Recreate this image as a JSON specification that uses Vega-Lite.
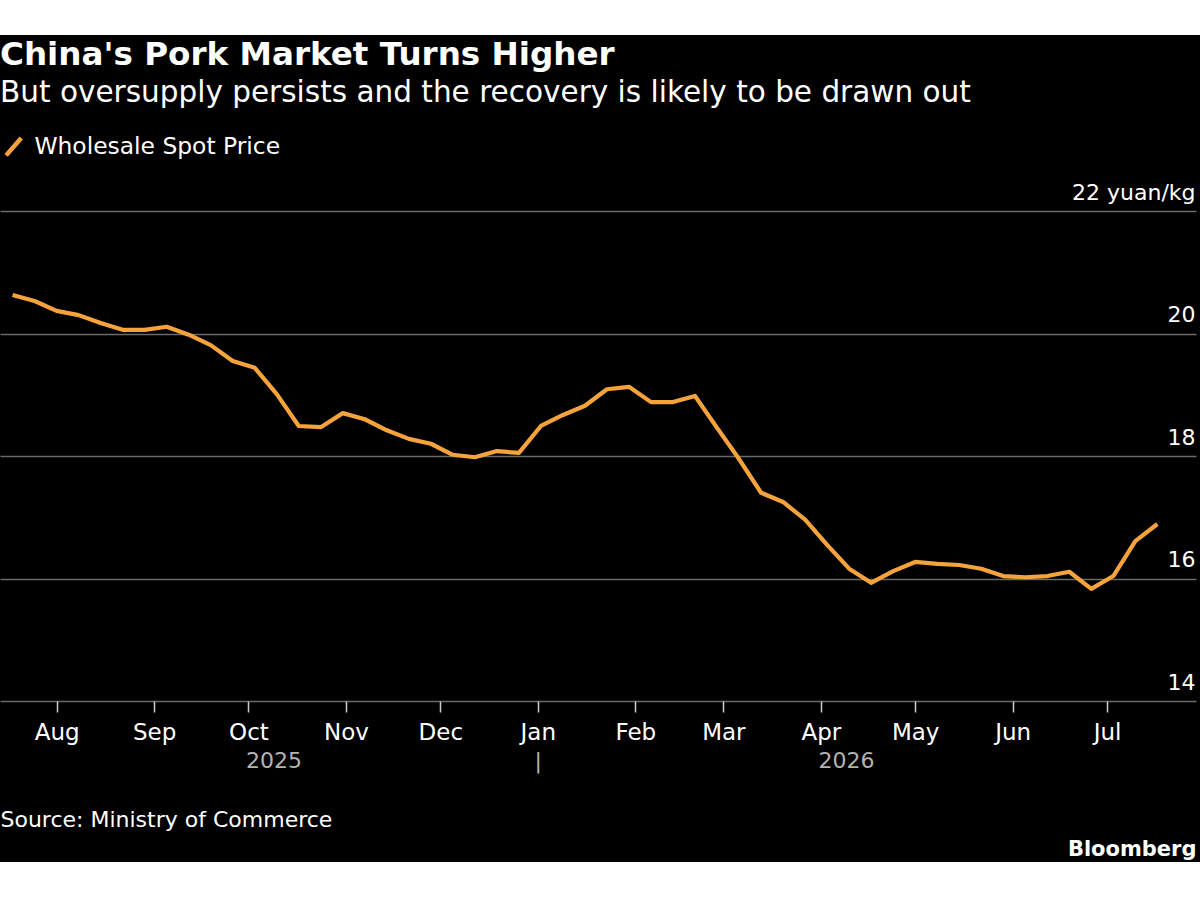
{
  "$schema": "https://vega.github.io/schema/vega-lite/v6.json",
  "autosize": "none",
  "width": 1196,
  "height": 490,
  "padding": {"left": 0, "top": 211, "right": 4, "bottom": 161},
  "background": "white",
  "view": {"fill": "black", "stroke": "black", "strokeWidth": 352},
  "title": {
    "text": "China's Pork Market Turns Higher",
    "subtitle": "But oversupply persists and the recovery is likely to be drawn out",
    "anchor": "start",
    "frame": "group",
    "font": "DejaVu Sans",
    "fontSize": 32.6,
    "fontWeight": "bold",
    "color": "white",
    "subtitleFont": "DejaVu Sans",
    "subtitleFontSize": 29.5,
    "subtitleColor": "white",
    "subtitlePadding": 8,
    "offset": 27
  },
  "layer": [
    {
      "data": {
        "values": [
          {"date": "2025-07-18", "price": 20.63, "series": "Wholesale Spot Price"},
          {"date": "2025-07-25", "price": 20.53, "series": "Wholesale Spot Price"},
          {"date": "2025-08-01", "price": 20.37, "series": "Wholesale Spot Price"},
          {"date": "2025-08-08", "price": 20.30, "series": "Wholesale Spot Price"},
          {"date": "2025-08-15", "price": 20.17, "series": "Wholesale Spot Price"},
          {"date": "2025-08-22", "price": 20.06, "series": "Wholesale Spot Price"},
          {"date": "2025-08-29", "price": 20.06, "series": "Wholesale Spot Price"},
          {"date": "2025-09-05", "price": 20.11, "series": "Wholesale Spot Price"},
          {"date": "2025-09-12", "price": 19.98, "series": "Wholesale Spot Price"},
          {"date": "2025-09-19", "price": 19.81, "series": "Wholesale Spot Price"},
          {"date": "2025-09-26", "price": 19.55, "series": "Wholesale Spot Price"},
          {"date": "2025-10-03", "price": 19.44, "series": "Wholesale Spot Price"},
          {"date": "2025-10-10", "price": 19.01, "series": "Wholesale Spot Price"},
          {"date": "2025-10-17", "price": 18.49, "series": "Wholesale Spot Price"},
          {"date": "2025-10-24", "price": 18.47, "series": "Wholesale Spot Price"},
          {"date": "2025-10-31", "price": 18.70, "series": "Wholesale Spot Price"},
          {"date": "2025-11-07", "price": 18.60, "series": "Wholesale Spot Price"},
          {"date": "2025-11-14", "price": 18.42, "series": "Wholesale Spot Price"},
          {"date": "2025-11-21", "price": 18.28, "series": "Wholesale Spot Price"},
          {"date": "2025-11-28", "price": 18.20, "series": "Wholesale Spot Price"},
          {"date": "2025-12-05", "price": 18.02, "series": "Wholesale Spot Price"},
          {"date": "2025-12-12", "price": 17.98, "series": "Wholesale Spot Price"},
          {"date": "2025-12-19", "price": 18.08, "series": "Wholesale Spot Price"},
          {"date": "2025-12-26", "price": 18.05, "series": "Wholesale Spot Price"},
          {"date": "2026-01-02", "price": 18.49, "series": "Wholesale Spot Price"},
          {"date": "2026-01-09", "price": 18.67, "series": "Wholesale Spot Price"},
          {"date": "2026-01-16", "price": 18.82, "series": "Wholesale Spot Price"},
          {"date": "2026-01-23", "price": 19.09, "series": "Wholesale Spot Price"},
          {"date": "2026-01-30", "price": 19.13, "series": "Wholesale Spot Price"},
          {"date": "2026-02-06", "price": 18.88, "series": "Wholesale Spot Price"},
          {"date": "2026-02-13", "price": 18.88, "series": "Wholesale Spot Price"},
          {"date": "2026-02-20", "price": 18.98, "series": "Wholesale Spot Price"},
          {"date": "2026-02-27", "price": 18.46, "series": "Wholesale Spot Price"},
          {"date": "2026-03-06", "price": 17.95, "series": "Wholesale Spot Price"},
          {"date": "2026-03-13", "price": 17.40, "series": "Wholesale Spot Price"},
          {"date": "2026-03-20", "price": 17.25, "series": "Wholesale Spot Price"},
          {"date": "2026-03-27", "price": 16.96, "series": "Wholesale Spot Price"},
          {"date": "2026-04-03", "price": 16.55, "series": "Wholesale Spot Price"},
          {"date": "2026-04-10", "price": 16.16, "series": "Wholesale Spot Price"},
          {"date": "2026-04-17", "price": 15.93, "series": "Wholesale Spot Price"},
          {"date": "2026-04-24", "price": 16.12, "series": "Wholesale Spot Price"},
          {"date": "2026-05-01", "price": 16.27, "series": "Wholesale Spot Price"},
          {"date": "2026-05-08", "price": 16.24, "series": "Wholesale Spot Price"},
          {"date": "2026-05-15", "price": 16.22, "series": "Wholesale Spot Price"},
          {"date": "2026-05-22", "price": 16.16, "series": "Wholesale Spot Price"},
          {"date": "2026-05-29", "price": 16.04, "series": "Wholesale Spot Price"},
          {"date": "2026-06-05", "price": 16.02, "series": "Wholesale Spot Price"},
          {"date": "2026-06-12", "price": 16.04, "series": "Wholesale Spot Price"},
          {"date": "2026-06-19", "price": 16.11, "series": "Wholesale Spot Price"},
          {"date": "2026-06-26", "price": 15.83, "series": "Wholesale Spot Price"},
          {"date": "2026-07-03", "price": 16.04, "series": "Wholesale Spot Price"},
          {"date": "2026-07-10", "price": 16.61, "series": "Wholesale Spot Price"},
          {"date": "2026-07-17", "price": 16.89, "series": "Wholesale Spot Price"}
        ],
        "format": {"parse": {"date": "date:'%Y-%m-%d'"}}
      },
      "mark": {"type": "line", "strokeWidth": 4.2, "strokeJoin": "round"},
      "encoding": {
        "x": {
          "field": "date",
          "type": "temporal",
          "scale": {
            "domain": [
              {"year": 2025, "month": 7, "date": 14},
              {"year": 2026, "month": 7, "date": 29, "hours": 7}
            ]
          },
          "axis": {
            "orient": "bottom",
            "format": "%b",
            "tickCount": {"interval": "month", "step": 1},
            "grid": false,
            "domain": false,
            "ticks": true,
            "tickSize": 11,
            "tickWidth": 1.5,
            "tickColor": "#cccccc",
            "labelColor": "white",
            "labelFontSize": 23,
            "labelBaseline": "alphabetic",
            "labelPadding": 27,
            "labelFlush": false,
            "labelOverlap": false,
            "title": "Source: Ministry of Commerce",
            "titleAnchor": "start",
            "titleAlign": "left",
            "titleBaseline": "alphabetic",
            "titleY": 125,
            "titleColor": "white",
            "titleFontSize": 22,
            "titleFontWeight": "normal"
          }
        },
        "y": {
          "field": "price",
          "type": "quantitative",
          "scale": {"domain": [14, 22], "zero": false, "nice": false},
          "axis": {
            "orient": "right",
            "values": [14, 16, 18, 20, 22],
            "grid": true,
            "gridColor": "#6a6a6a",
            "gridWidth": 1.6,
            "domain": false,
            "ticks": false,
            "tickSize": 0,
            "labelAlign": "right",
            "labelBaseline": "alphabetic",
            "labelOffset": -12,
            "labelPadding": -1,
            "labelFlush": false,
            "labelOverlap": false,
            "labelColor": "white",
            "labelFontSize": 22,
            "labelExpr": "datum.value == 22 ? '22 yuan/kg' : datum.label",
            "title": null
          }
        },
        "color": {
          "field": "series",
          "type": "nominal",
          "scale": {"domain": ["Wholesale Spot Price"], "range": ["#f7a33c"]},
          "legend": {
            "orient": "none",
            "legendX": 2,
            "legendY": -76,
            "title": null,
            "padding": 0,
            "symbolType": "M-0.875,1L0.875,-1",
            "symbolSize": 300,
            "symbolStrokeWidth": 4.5,
            "labelOffset": 9,
            "labelLimit": 0,
            "labelColor": "white",
            "labelFontSize": 23.4
          }
        }
      }
    },
    {
      "data": {"values": []},
      "mark": {"type": "point", "opacity": 0},
      "encoding": {
        "x": {
          "field": "date",
          "type": "temporal",
          "axis": {
            "orient": "bottom",
            "values": [
              {"year": 2025, "month": 10, "date": 9},
              {"year": 2026, "month": 1, "date": 1},
              {"year": 2026, "month": 4, "date": 9}
            ],
            "labelExpr": "month(datum.value) == 0 ? '|' : timeFormat(datum.value, '%Y')",
            "grid": false,
            "domain": false,
            "ticks": false,
            "tickSize": 0,
            "labelColor": "#b3b3b3",
            "labelFontSize": 22,
            "labelBaseline": "alphabetic",
            "labelPadding": 66,
            "labelFlush": false,
            "labelOverlap": false,
            "title": "Bloomberg",
            "titleAnchor": "end",
            "titleAlign": "right",
            "titleBaseline": "alphabetic",
            "titleY": 154,
            "titleColor": "white",
            "titleFontSize": 21,
            "titleFontWeight": "bold"
          }
        }
      }
    }
  ],
  "resolve": {"axis": {"x": "independent"}},
  "config": {
    "font": "DejaVu Sans",
    "axis": {"labelFont": "DejaVu Sans", "titleFont": "DejaVu Sans"},
    "legend": {"labelFont": "DejaVu Sans"}
  }
}
